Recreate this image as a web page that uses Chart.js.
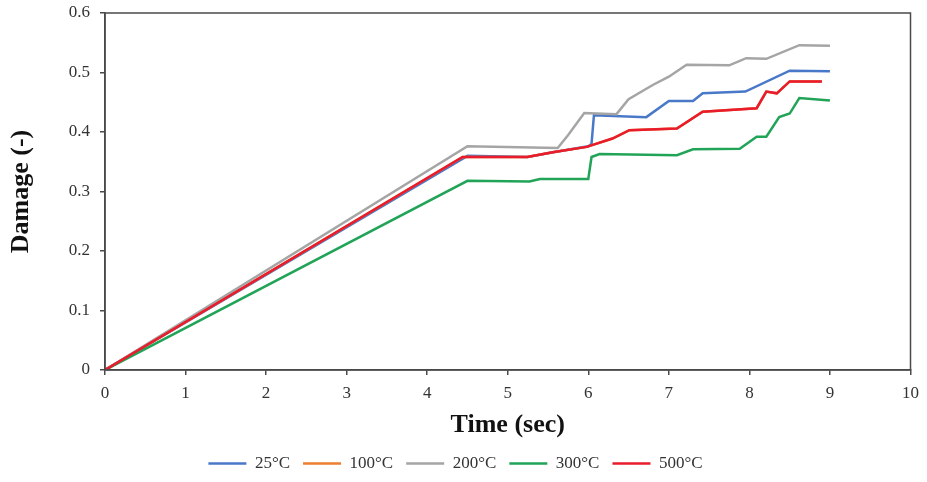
<!DOCTYPE html>
<html>
<head>
<meta charset="utf-8">
<script src="https://cdn.jsdelivr.net/npm/chart.js@4/dist/chart.umd.min.js"></script>
<style>
    html, body { margin: 0; padding: 0; background: #fff; }
    #wrap { width: 927px; height: 482px; }
</style>
</head>
<body>
<div id="wrap"><canvas id="graphs" width="927" height="482"></canvas></div>
<script>
// values
const seriesLabels = ['25°C', '100°C', '200°C', '300°C', '500°C'];
const seriesColors = ['#4a78c8', '#ed7d31', '#a5a5a5', '#22a458', '#e81c2c'];

const time25 = [0, 4.5, 5.25, 5.56, 6.0, 6.04, 6.07, 6.72, 7.0, 7.3, 7.42, 7.95, 8.5, 9.0];
const damage25 = [0, 0.36, 0.358, 0.366, 0.376, 0.38, 0.428, 0.425, 0.452, 0.452, 0.465, 0.468, 0.503, 0.502];

const time100 = [0, 4.44, 5.24, 5.56, 5.98, 6.3, 6.51, 7.1, 7.42, 8.09, 8.21, 8.34, 8.5, 8.9];
const damage100 = [0, 0.358, 0.358, 0.366, 0.375, 0.389, 0.403, 0.406, 0.434, 0.44, 0.468, 0.465, 0.485, 0.485];

const time200 = [0, 4.5, 5.62, 5.75, 5.95, 6.35, 6.5, 6.8, 7.0, 7.22, 7.75, 7.96, 8.21, 8.62, 9.0];
const damage200 = [0, 0.376, 0.373, 0.395, 0.432, 0.43, 0.455, 0.479, 0.493, 0.513, 0.512, 0.524, 0.523, 0.546, 0.545];

const time300 = [0, 4.5, 5.27, 5.4, 6.0, 6.04, 6.14, 7.1, 7.3, 7.88, 8.09, 8.21, 8.37, 8.5, 8.62, 9.0];
const damage300 = [0, 0.318, 0.317, 0.321, 0.321, 0.358, 0.363, 0.361, 0.371, 0.372, 0.392, 0.392, 0.425, 0.431, 0.457, 0.453];

const time500 = [0, 4.44, 5.24, 5.56, 5.98, 6.3, 6.51, 7.1, 7.42, 8.09, 8.21, 8.34, 8.5, 8.9];
const damage500 = [0, 0.358, 0.358, 0.366, 0.375, 0.389, 0.403, 0.406, 0.434, 0.44, 0.468, 0.465, 0.485, 0.485];

const seriesTimes = [time25, time100, time200, time300, time500];
const seriesDamage = [damage25, damage100, damage200, damage300, damage500];

const serif = '"Liberation Serif", "DejaVu Serif", serif';

function toPoints(xs, ys) {
    return xs.map((x, i) => ({ x: x, y: ys[i] }));
}

// later series are painted over earlier ones, like the original
const datasets = seriesLabels.map((label, i) => ({
    label: label,
    data: toPoints(seriesTimes[i], seriesDamage[i]),
    borderColor: seriesColors[i],
    backgroundColor: seriesColors[i],
    borderWidth: 2.5,
    pointRadius: 0,
    tension: 0,
    fill: false,
    order: seriesLabels.length - i
}));

// box round the plot area
const frame = {
    id: 'frame',
    afterDraw(chart) {
        const { ctx, chartArea: a } = chart;
        ctx.save();
        ctx.strokeStyle = '#4a4a4a';
        ctx.lineWidth = 1.5;
        ctx.strokeRect(a.left, a.top, a.right - a.left, a.bottom - a.top);
        ctx.restore();
    }
};

const config = {
    type: 'line',
    data: { datasets: datasets },
    options: {
        responsive: false,
        animation: false,
        layout: { padding: { top: 13, right: 16, left: 0, bottom: 0 } },
        plugins: {
            tooltip: { enabled: false },
            legend: {
                position: 'bottom',
                labels: {
                    usePointStyle: true,
                    pointStyle: 'line',
                    pointStyleWidth: 38,
                    padding: 13,
                    color: '#333',
                    font: { family: serif, size: 17 },
                    sort: (a, b) => a.datasetIndex - b.datasetIndex
                }
            }
        },
        scales: {
            x: {
                type: 'linear',
                min: 0,
                max: 10,
                ticks: { stepSize: 1, color: '#333', padding: 8, font: { family: serif, size: 17 } },
                grid: { drawOnChartArea: false, tickLength: 5, color: '#4a4a4a', lineWidth: 1.5 },
                border: { color: '#4a4a4a', width: 1.5 },
                title: {
                    display: true,
                    text: 'Time (sec)',
                    color: '#111',
                    font: { family: serif, size: 26, weight: 'bold' },
                    padding: { top: 4, bottom: 1 }
                },
                afterFit(scale) { scale.height = 72; }
            },
            y: {
                min: 0,
                max: 0.6,
                ticks: {
                    stepSize: 0.1,
                    color: '#333',
                    padding: 10,
                    font: { family: serif, size: 17 },
                    callback: (v) => (Math.round(v * 10) / 10).toString()
                },
                grid: { drawOnChartArea: false, tickLength: 5, color: '#4a4a4a', lineWidth: 1.5 },
                border: { color: '#4a4a4a', width: 1.5 },
                title: {
                    display: true,
                    text: 'Damage (-)',
                    color: '#111',
                    font: { family: serif, size: 26, weight: 'bold' },
                    padding: { top: 6, bottom: 4 }
                },
                afterFit(scale) {
                    scale.width = 105;
                    scale.paddingTop = 0;
                    scale.paddingBottom = 0;
                }
            }
        }
    },
    plugins: [frame]
};

const myChart = new Chart(document.getElementById('graphs'), config);
</script>
</body>
</html>
